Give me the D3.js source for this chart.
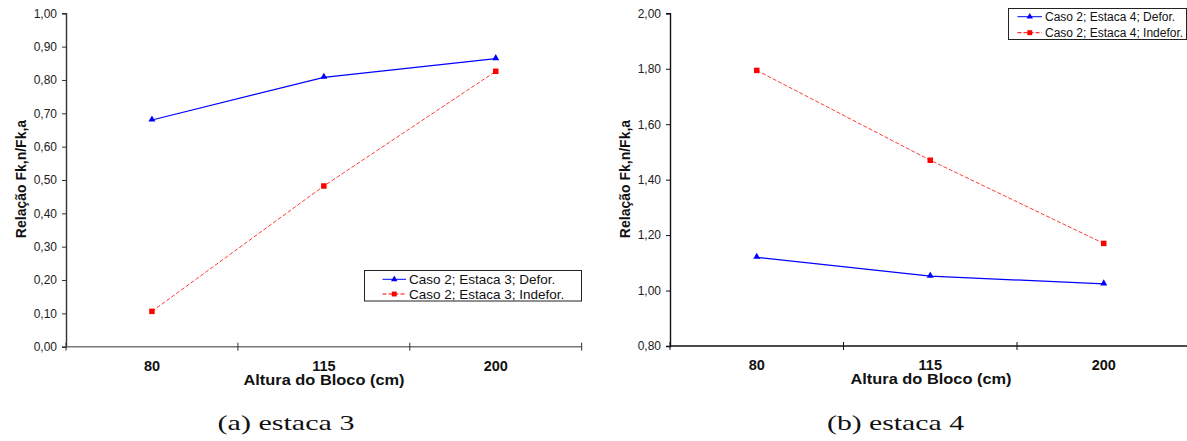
<!DOCTYPE html>
<html><head><meta charset="utf-8">
<script src="https://cdn.jsdelivr.net/npm/d3@7"></script>
<style>
body{margin:0;background:#fff;}
svg{display:block;font-family:"Liberation Sans",Arial,sans-serif;}
</style></head>
<body><svg id="c" width="1187" height="441"></svg>
<script>
const categories = ["80", "115", "200"];
const leftDefor = [0.68, 0.808, 0.864];
const leftIndefor = [0.106, 0.482, 0.826];
const leftTicks = [0, 0.1, 0.2, 0.3, 0.4, 0.5, 0.6, 0.7, 0.8, 0.9, 1.0];
const rightDefor = [1.12, 1.052, 1.024];
const rightIndefor = [1.794, 1.470, 1.170];
const rightTicks = [0.8, 1.0, 1.2, 1.4, 1.6, 1.8, 2.0];
const leftNames = ["Caso 2; Estaca 3; Defor.", "Caso 2; Estaca 3; Indefor."];
const rightNames = ["Caso 2; Estaca 4; Defor.", "Caso 2; Estaca 4; Indefor."];
const captions = ["(a) estaca 3", "(b) estaca 4"];
const xTitle = "Altura do Bloco (cm)";
const yTitle = "Relação Fk,n/Fk,a";

const svg = d3.select("#c");
const fmt = d => d.toFixed(2).replace(".", ",");

function panel(cfg) {
  const g = svg.append("g");
  const x = d3.scaleBand().domain(categories).range([cfg.x0, cfg.x1]);
  const y = d3.scaleLinear().domain(cfg.domain).range([cfg.yb, cfg.yt]);
  const axisCol = cfg.axisCol;

  // y axis
  const ya = g.append("g").attr("transform", `translate(${cfg.x0},0)`)
    .call(d3.axisLeft(y).tickValues(cfg.ticks).tickFormat(fmt).tickSizeOuter(0).tickSize(4).tickPadding(5));
  ya.select(".domain").attr("stroke", axisCol).attr("stroke-width", 1.4);
  ya.selectAll(".tick line").attr("stroke", axisCol);
  ya.selectAll(".tick text").attr("fill", "#222").style("font-size", "12px");

  // x axis line
  g.append("line").attr("x1", cfg.x0).attr("x2", cfg.x1).attr("y1", cfg.yb).attr("y2", cfg.yb)
    .attr("stroke", cfg.xAxisCol).attr("stroke-width", 1.4);
  const edges = categories.map(c => x(c)).concat([x(categories[categories.length - 1]) + x.bandwidth()]);
  g.selectAll(".xt").data(edges).join("line")
    .attr("x1", d => d).attr("x2", d => d).attr("y1", cfg.yb - 4).attr("y2", cfg.yb + 4)
    .attr("stroke", axisCol).attr("stroke-width", 1);
  g.selectAll(".xl").data(categories).join("text")
    .attr("x", d => x(d) + x.bandwidth() / 2).attr("y", cfg.yb + 24)
    .attr("text-anchor", "middle").style("font-size", "14.5px").style("font-weight", "bold")
    .attr("fill", "#111").text(d => d);
  g.append("text").attr("x", cfg.titleX).attr("y", cfg.yb + 38)
    .attr("text-anchor", "middle").style("font-size", "14px").style("font-weight", "bold")
    .attr("textLength", 161).attr("lengthAdjust", "spacingAndGlyphs")
    .attr("fill", "#111").text(xTitle);
  g.append("text").attr("transform", `translate(${cfg.yTitleX},179) rotate(-90)`)
    .attr("text-anchor", "middle").style("font-size", "14px").style("font-weight", "bold")
    .attr("fill", "#111").text(yTitle);

  const cx = d => x(d) + x.bandwidth() / 2;
  const line = d3.line().x((d, i) => cx(categories[i])).y(d => y(d));

  g.append("path").datum(cfg.indefor).attr("d", line).attr("fill", "none")
    .attr("stroke", "#ff3a3a").attr("stroke-width", 1).attr("stroke-dasharray", "4,2");
  g.append("path").datum(cfg.defor).attr("d", line).attr("fill", "none")
    .attr("stroke", "#0000ff").attr("stroke-width", 1.2);
  const tri = d3.symbol().type(d3.symbolTriangle).size(21);
  const sq = d3.symbol().type(d3.symbolSquare).size(30);
  g.selectAll(".sq").data(cfg.indefor).join("path")
    .attr("transform", (d, i) => `translate(${cx(categories[i])},${y(d)})`)
    .attr("d", sq).attr("fill", "#ff0000");
  g.selectAll(".tr").data(cfg.defor).join("path")
    .attr("transform", (d, i) => `translate(${cx(categories[i])},${y(d) - 0.5})`)
    .attr("d", tri).attr("fill", "#0000ff");

  // legend
  const L = cfg.legend;
  g.append("rect").attr("x", L.x).attr("y", L.y).attr("width", L.w).attr("height", L.h)
    .attr("fill", "#fff").attr("stroke", "#222").attr("stroke-width", 1);
  const rows = [
    {name: cfg.names[0], col: "#0000ff", dash: null},
    {name: cfg.names[1], col: "#ff0000", dash: "4,2"}
  ];
  rows.forEach((r, i) => {
    const ly = L.y + L.row0 + i * L.dy;
    g.append("line").attr("x1", L.lx0).attr("x2", L.lx1).attr("y1", ly).attr("y2", ly)
      .attr("stroke", r.col).attr("stroke-width", 1).attr("stroke-dasharray", r.dash);
    g.append("path").attr("transform", `translate(${(L.lx0 + L.lx1) / 2},${ly})`)
      .attr("d", i === 0 ? d3.symbol().type(d3.symbolTriangle).size(18) : d3.symbol().type(d3.symbolSquare).size(24))
      .attr("fill", r.col);
    g.append("text").attr("x", L.lx1 + 3).attr("y", ly + 4.5).style("font-size", L.fs + "px")
      .attr("fill", "#111").text(r.name);
  });

  svg.append("text").attr("x", cfg.capX).attr("y", 430).attr("text-anchor", "middle")
    .style("font-family", "'Liberation Serif','DejaVu Serif',serif").style("font-size", "21px")
    .attr("textLength", 137).attr("lengthAdjust", "spacingAndGlyphs")
    .attr("fill", "#111").text(cfg.caption);
}

panel({
  x0: 66, x1: 581.7, yt: 13.3, yb: 346.7, domain: [0, 1], ticks: leftTicks,
  defor: leftDefor, indefor: leftIndefor, names: leftNames,
  axisCol: "#333", xAxisCol: "#777", titleX: 324, yTitleX: 25.5,
  legend: {x: 364.5, y: 270.5, w: 217, h: 30.5, row0: 8.8, dy: 14.7, lx0: 382.5, lx1: 406, fs: 13.5},
  capX: 286, caption: captions[0]
});
panel({
  x0: 670, x1: 1190.5, yt: 13.3, yb: 346, domain: [0.8, 2.0], ticks: rightTicks,
  defor: rightDefor, indefor: rightIndefor, names: rightNames,
  axisCol: "#111", xAxisCol: "#111", titleX: 931, yTitleX: 629.5,
  legend: {x: 1008.5, y: 8.5, w: 178, h: 31, row0: 8.2, dy: 16, lx0: 1017.5, lx1: 1042, fs: 12},
  capX: 895.5, caption: captions[1]
});
</script></body></html>
